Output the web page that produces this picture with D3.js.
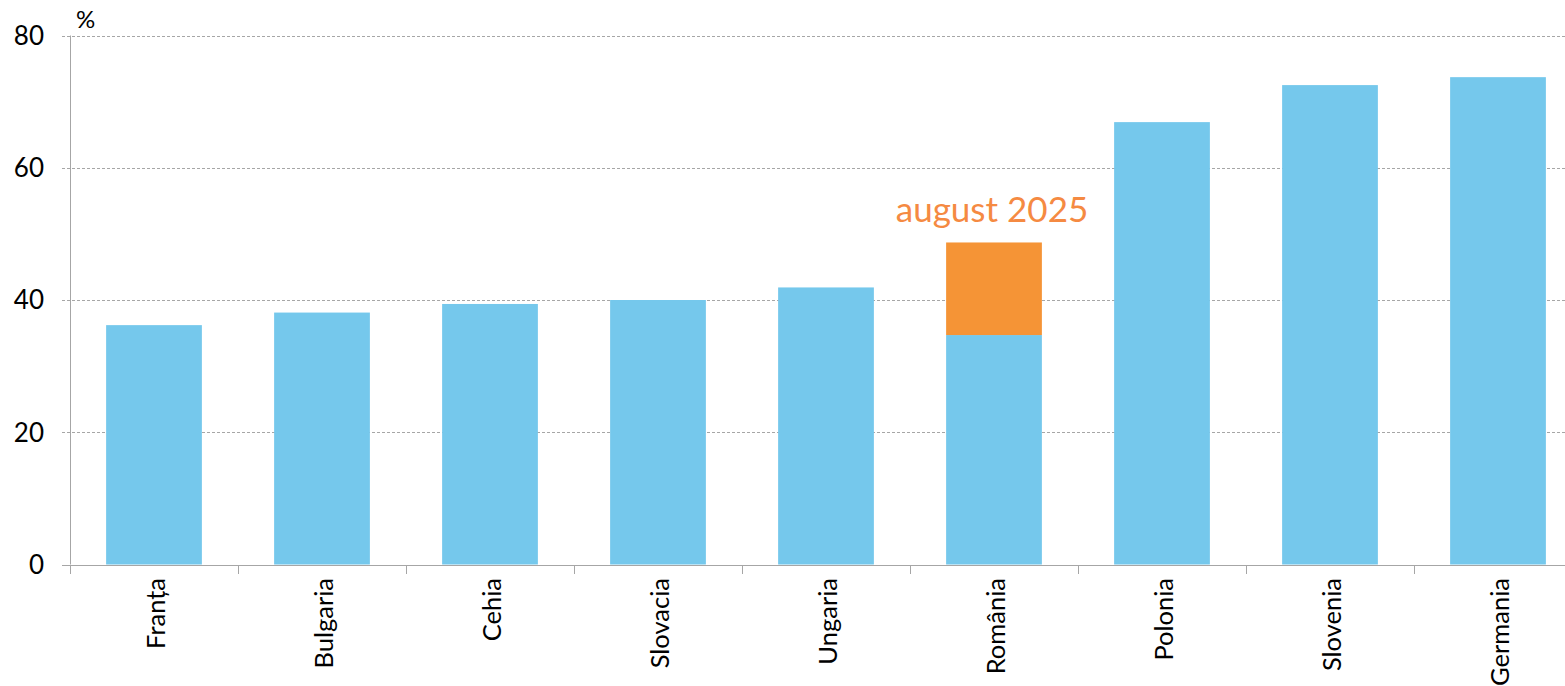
<!DOCTYPE html>
<html>
<head>
<meta charset="utf-8">
<script src="https://cdn.jsdelivr.net/npm/d3@7"></script>
<style>
html,body{margin:0;padding:0;background:#fff;overflow:hidden;}
svg{display:block;font-family:Lato,"Open Sans",sans-serif;}
</style>
</head>
<body>
<svg id="chart" width="1565" height="686"></svg>
<script>
const categories = ["Franța","Bulgaria","Cehia","Slovacia","Ungaria","România","Polonia","Slovenia","Germania"];
const baseValues = [36.2, 38.1, 39.4, 40.0, 41.9, 34.7, 66.9, 72.5, 73.7];
const augustValues = [null, null, null, null, null, 48.7, null, null, null];
const yTicks = [0, 20, 40, 60, 80];
const unitLabel = "%";
const annotation = "august 2025";

const svg = d3.select("#chart");
const x = d3.scaleBand().domain(categories).range([70, 1582]).paddingInner(0.43).paddingOuter(0.215);
const y = d3.scaleLinear().domain([0, 80]).range([564.5, 35.5]);

// gridlines
svg.append("g").selectAll("line").data(yTicks.filter(d => d > 0)).join("line")
  .attr("x1", 62).attr("x2", 1565)
  .attr("y1", d => Math.round(y(d)) + 0.5).attr("y2", d => Math.round(y(d)) + 0.5)
  .attr("stroke", "#a6a6a6").attr("stroke-width", 1).attr("stroke-dasharray", "3,2");

// bars
svg.append("g").selectAll("rect").data(categories).join("rect")
  .attr("x", d => x(d)).attr("width", x.bandwidth())
  .attr("y", (d, i) => y(baseValues[i])).attr("height", (d, i) => y(0) - y(baseValues[i]))
  .attr("fill", "#75c8ec");

svg.append("g").selectAll("rect").data(categories.filter((d, i) => augustValues[i] != null)).join("rect")
  .attr("x", d => x(d)).attr("width", x.bandwidth())
  .attr("y", d => y(augustValues[categories.indexOf(d)]))
  .attr("height", d => { const i = categories.indexOf(d); return y(baseValues[i]) - y(augustValues[i]); })
  .attr("fill", "#f59436");

// annotation
const ai = augustValues.findIndex(v => v != null);
svg.append("text")
  .attr("x", x(categories[ai]) + x.bandwidth() / 2 - 2)
  .attr("y", y(augustValues[ai]) - 20)
  .attr("text-anchor", "middle").attr("font-size", 35).attr("fill", "#f58a42")
  .text(annotation);

// y axis
svg.append("line").attr("x1", 70.5).attr("x2", 70.5).attr("y1", y(80)).attr("y2", y(0))
  .attr("stroke", "#a6a6a6");
svg.append("g").selectAll("text").data(yTicks).join("text")
  .attr("x", 44).attr("y", d => y(d)).attr("dy", "0.36em")
  .attr("text-anchor", "end").attr("font-size", 26).attr("fill", "#000")
  .text(d => d);
svg.append("g").selectAll("line").data(yTicks.filter(d => d === 0)).join("line")
  .attr("x1", 62).attr("x2", 1565)
  .attr("y1", d => Math.round(y(d)) + 0.5).attr("y2", d => Math.round(y(d)) + 0.5)
  .attr("stroke", "#a6a6a6");
svg.append("text").attr("x", 76).attr("y", 28).attr("font-size", 24).attr("fill", "#000").text(unitLabel);

// x axis ticks at category boundaries
const step = x.step();
const bounds = d3.range(categories.length + 1).map(i => 70 + i * step);
svg.append("g").selectAll("line").data(bounds).join("line")
  .attr("x1", d => Math.round(d) + 0.5).attr("x2", d => Math.round(d) + 0.5)
  .attr("y1", Math.round(y(0))).attr("y2", Math.round(y(0)) + 9)
  .attr("stroke", "#a6a6a6");

// category labels
svg.append("g").selectAll("text").data(categories).join("text")
  .attr("transform", d => `translate(${x(d) + x.bandwidth() / 2 + 2},578) rotate(-90)`)
  .attr("dy", "0.35em").attr("text-anchor", "end").attr("font-size", 25.5).attr("fill", "#000")
  .text(d => d);
</script>
</body>
</html>
